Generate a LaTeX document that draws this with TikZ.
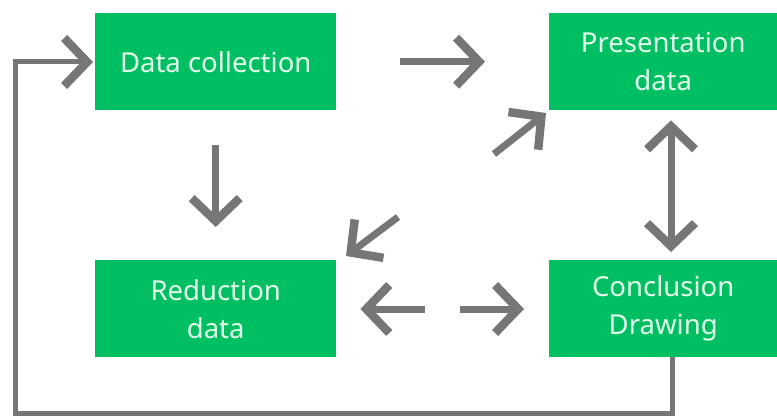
\documentclass[tikz,border=0pt]{standalone}
\usepackage{fontspec}
\setmainfont{Noto Sans}
\usetikzlibrary{arrows.meta}
\definecolor{boxgreen}{RGB}{0,191,99}
\definecolor{boxtext}{RGB}{228,255,236}
\definecolor{arrowgray}{RGB}{118,118,118}
\begin{document}
\begin{tikzpicture}[x=1pt,y=-1pt,
  stage/.style={fill=boxgreen, draw=none, text=boxtext, align=center,
    inner sep=0pt, font=\fontsize{27.5}{38}\selectfont},
  chev/.style={-{Straight Barb[length=23pt,width=48pt,line width'=8.5pt,line join=miter]}},
  flow/.style={draw=arrowgray, line width=7pt, chev},
  loopline/.style={draw=arrowgray, line width=5pt, line join=miter, chev}]
  \useasboundingbox (0,0) rectangle (777,417);

  % four stages of the cycle
  \node[stage, minimum width=241pt, minimum height=97pt, anchor=north west] (coll) at (95,13) {Data collection};
  \node[stage, minimum width=228pt, minimum height=97pt, anchor=north west] (pres) at (549,13) {Presentation\\data};
  \node[stage, minimum width=241pt, minimum height=97pt, anchor=north west] (red) at (95,260) {Reduction\\data};
  \node[stage, minimum width=228pt, minimum height=97pt, anchor=north west] (concl) at (549,260) {Conclusion\\Drawing};

  % free ends of the floating arrows
  \coordinate (upA) at (494,154);
  \coordinate (upB) at (546,113);
  \coordinate (dnA) at (398,217);
  \coordinate (dnB) at (346,256);
  \coordinate (vmid) at (671,186.5);
  \coordinate (hmidL) at (425,309);
  \coordinate (hmidR) at (460,309);
  \coordinate (loopA) at (672,413);
  \coordinate (loopB) at (15,413);
  \coordinate (loopC) at (15,62);

  % arrows between stages
  \draw[flow, shorten <=64pt, shorten >=64pt] (coll.east) -- (pres.west);
  \draw[flow, shorten <=35pt, shorten >=33pt] (coll.south) -- (red.north);
  \draw[flow] (upA) -- (upB);
  \draw[flow] (dnA) -- (dnB);
  \draw[flow, shorten >=10pt] (vmid) -- (vmid |- pres.south);
  \draw[flow, shorten >=8pt] (vmid) -- (vmid |- concl.north);
  \draw[flow, shorten >=24pt] (hmidL) -- (red.east |- hmidL);
  \draw[flow, shorten >=25pt] (hmidR) -- (concl.west |- hmidR);

  % feedback loop back to data collection
  \draw[loopline, shorten >=2pt] (concl.south -| loopA) -- (loopA) -- (loopB) -- (loopC)
    -- (coll.west |- loopC);
\end{tikzpicture}
\end{document}
